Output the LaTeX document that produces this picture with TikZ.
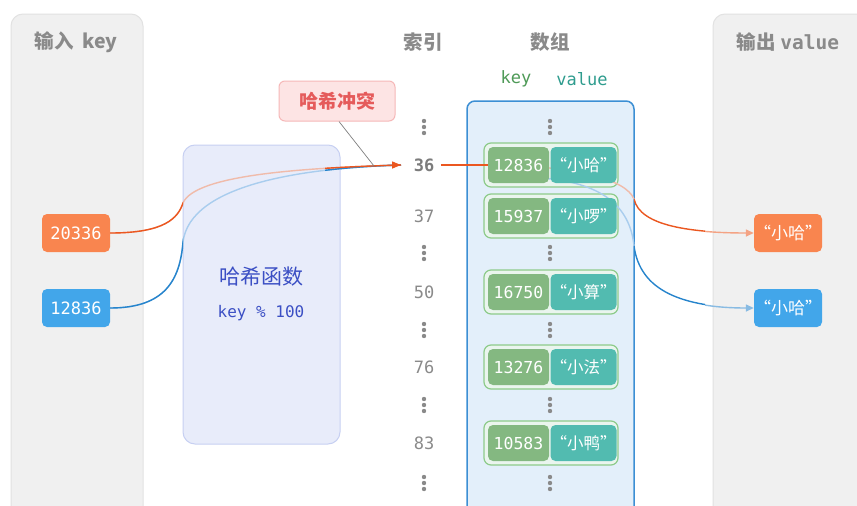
\documentclass[tikz,border=0pt]{standalone}
\usepackage{fontspec}
\setmainfont{Noto Sans CJK SC}
\newfontfamily\mono{DejaVu Sans Mono}
\usetikzlibrary{arrows.meta}
\definecolor{panelfill}{HTML}{F0F0F0}
\definecolor{panelborder}{HTML}{E2E2E2}
\definecolor{titlegray}{HTML}{8A8A8A}
\definecolor{hashfill}{HTML}{E8ECFA}
\definecolor{hashborder}{HTML}{C7D0F2}
\definecolor{hashtext}{HTML}{3B4FC4}
\definecolor{nodeorange}{HTML}{F9854F}
\definecolor{nodeblue}{HTML}{42A6EA}
\definecolor{lineorange}{HTML}{EB5720}
\definecolor{lineblue}{HTML}{2684CC}
\definecolor{lightorange}{HTML}{F0BBAA}
\definecolor{lightblue}{HTML}{A9CDEE}
\definecolor{redfill}{HTML}{FDE4E4}
\definecolor{redborder}{HTML}{F6B8B8}
\definecolor{redtext}{HTML}{E55B5B}
\definecolor{arrfill}{HTML}{E3EFFA}
\definecolor{arrborder}{HTML}{3C8FD4}
\definecolor{keygreen}{HTML}{84B881}
\definecolor{valteal}{HTML}{52BBB0}
\definecolor{entryborder}{HTML}{8DCB8A}
\definecolor{entryfill}{HTML}{EAF5EE}
\definecolor{hdrgreen}{HTML}{4E9A57}
\definecolor{hdrteal}{HTML}{2E9C8E}
\begin{document}
\begin{tikzpicture}[x=1pt,y=-1pt,
  panel/.style={fill=panelfill,draw=panelborder,line width=1pt,rounded corners=12pt},
  paneltitle/.style={text=titlegray,font=\fontsize{19.5}{22}\selectfont\bfseries},
  innode/.style={rounded corners=5pt,minimum width=68pt,minimum height=38pt,inner sep=0pt,text=white,font=\mono\fontsize{17}{20}\selectfont},
  outnode/.style={rounded corners=5pt,minimum width=68pt,minimum height=38pt,inner sep=0pt,text=white,font=\fontsize{17}{20}\selectfont},
  idx/.style={text=titlegray,font=\mono\fontsize{17}{20}\selectfont},
  entry/.style={draw=entryborder,fill=entryfill,line width=1.2pt,rounded corners=7pt,minimum width=134pt,minimum height=44pt,inner sep=0pt},
  keybox/.style={fill=keygreen,rounded corners=5pt,minimum width=61pt,minimum height=36pt,inner sep=0pt,text=white,font=\mono\fontsize{16.5}{20}\selectfont},
  valbox/.style={fill=valteal,rounded corners=5pt,minimum width=61pt,minimum height=36pt,inner sep=0pt,text=white,font=\fontsize{16.5}{20}\selectfont},
  dotfill/.style={fill=titlegray,draw=none},
  thinline/.style={line width=1.4pt},
]
\useasboundingbox (0,0) rectangle (857,506);
\fill[white] (0,0) rectangle (857,506);
% panels
\path[panel] (11,530) rectangle (143,14);
\path[panel] (713,530) rectangle (880,14);
\node[paneltitle] (tin) at (76,42) {输入\ \ key};
\node[paneltitle] (tout) at (788,42) {输出 {\mono\bfseries value}};
% headers
\node[paneltitle] (hidx) at (423,42) {索引};
\node[paneltitle] (harr) at (550,42) {数组};
\node[text=hdrgreen,font=\mono\fontsize{17}{20}\selectfont] (hk) at (516,79) {key};
\node[text=hdrteal,font=\mono\fontsize{17}{20}\selectfont] (hv) at (582,79) {value};
% hash box
\node[fill=hashfill,draw=hashborder,line width=1pt,rounded corners=12pt,minimum width=157pt,minimum height=299pt,inner sep=0pt] (hash) at (261.5,294.5) {};
\node[text=hashtext,font=\fontsize{21}{24}\selectfont] (hname) at (261,277) {哈希函数};
\node[text=hashtext,font=\mono\fontsize{16}{19}\selectfont] (hexpr) at (261,313) {key \% 100};
% array box
\path[fill=arrfill,draw=arrborder,line width=1.5pt,rounded corners=8pt] (467,530) rectangle (634,101);
% input nodes
\node[innode,fill=nodeorange] (in1) at (76,233) {20336};
\node[innode,fill=nodeblue] (in2) at (76,308) {12836};
% output nodes
\node[outnode,fill=nodeorange] (out1) at (788,233) {“小哈”};
\node[outnode,fill=nodeblue] (out2) at (788,308) {“小哈”};
% index column
\node[idx,font=\mono\bfseries\fontsize{17}{20}\selectfont,text=titlegray!90!black] (i36) at (424,165) {36};
\node[idx] (i37) at (424,216) {37};
\node[idx] (i50) at (424,292) {50};
\node[idx] (i76) at (424,367) {76};
\node[idx] (i83) at (424,443) {83};
\foreach \yy in {127,253,330,405,483} {
  \foreach \dd in {-6,0,6} {
    \fill[dotfill] (424,\yy+\dd) circle (2.2pt);
    \fill[dotfill] (550,\yy+\dd) circle (2.2pt);
  }
}
% coordinates for curves
\coordinate (o1) at (183,203);
\coordinate (b1) at (183,242);
\coordinate (hit) at (401,165);
\coordinate (ro) at (634,199);
\coordinate (rb) at (634,246);
% left curves: light versions
\draw[lightorange,thinline] (in1.east) .. controls (165,233) and (178,218) .. (o1) .. controls (195,175) and (300,168) .. (hit);
\draw[lightblue,thinline] (in2.east) .. controls (165,308) and (180,280) .. (b1) .. controls (190,185) and (300,168) .. (hit);
% dark outside box / near target
\begin{scope}
\clip (0,0) rectangle (183,506) (325,0) rectangle (460,506);
\draw[lineblue,thinline] (in2.east) .. controls (165,308) and (180,280) .. (b1) .. controls (190,185) and (300,168) .. (hit);
\draw[lineorange,thinline] (in1.east) .. controls (165,233) and (178,218) .. (o1) .. controls (195,175) and (300,168) .. (hit);
\end{scope}
\draw[lineorange,thinline,-{Triangle[length=9pt,width=7pt]}] (395,165) -- (hit);
% collision label
\node[fill=redfill,draw=redborder,line width=1pt,rounded corners=6pt,minimum width=116pt,minimum height=40pt,inner sep=0pt,text=redtext,font=\fontsize{19}{22}\selectfont\bfseries] (coll) at (337,101) {哈希冲突};
\coordinate (collpt) at (374,166);
\draw[gray,line width=0.7pt] (coll.south) ++(2,0) -- (collpt);
% entries
\node[entry] (e1) at (551,165) {};
\node[entry] (e2) at (551,216) {};
\node[entry] (e3) at (551,292) {};
\node[entry] (e4) at (551,367) {};
\node[entry] (e5) at (551,443) {};
% right curves (light inside array)
\draw[lightorange,thinline] (470,165) -- (530,166) .. controls (575,170) and (625,178) .. (ro);
\draw[lightblue,thinline] (540,178) .. controls (600,182) and (630,205) .. (rb);
% key/value boxes
\node[keybox] (k1) at (518.5,165) {12836};
\node[valbox] (v1) at (583.5,165) {“小哈”};
\node[keybox] (k2) at (518.5,216) {15937};
\node[valbox] (v2) at (583.5,216) {“小啰”};
\node[keybox] (k3) at (518.5,292) {16750};
\node[valbox] (v3) at (583.5,292) {“小算”};
\node[keybox] (k4) at (518.5,367) {13276};
\node[valbox] (v4) at (583.5,367) {“小法”};
\node[keybox] (k5) at (518.5,443) {10583};
\node[valbox] (v5) at (583.5,443) {“小鸭”};
% 36 -> entry
\draw[lineorange,thinline] (i36.east) ++(3,0) -- (k1.west);
% out curves
\begin{scope}
\clip (634,0) rectangle (705,506);
\draw[lineorange,thinline] (ro) .. controls (640,226) and (690,233) .. (out1.west);
\draw[lineblue,thinline] (rb) .. controls (640,290) and (680,308) .. (out2.west);
\end{scope}
\begin{scope}
\clip (705,0) rectangle (760,506);
\draw[lineorange!55!white,thinline,-{Triangle[length=8pt,width=7pt]}] (ro) .. controls (640,226) and (690,233) .. (out1.west);
\draw[lineblue!55!white,thinline,-{Triangle[length=8pt,width=7pt]}] (rb) .. controls (640,290) and (680,308) .. (out2.west);
\end{scope}
\end{tikzpicture}
\end{document}
